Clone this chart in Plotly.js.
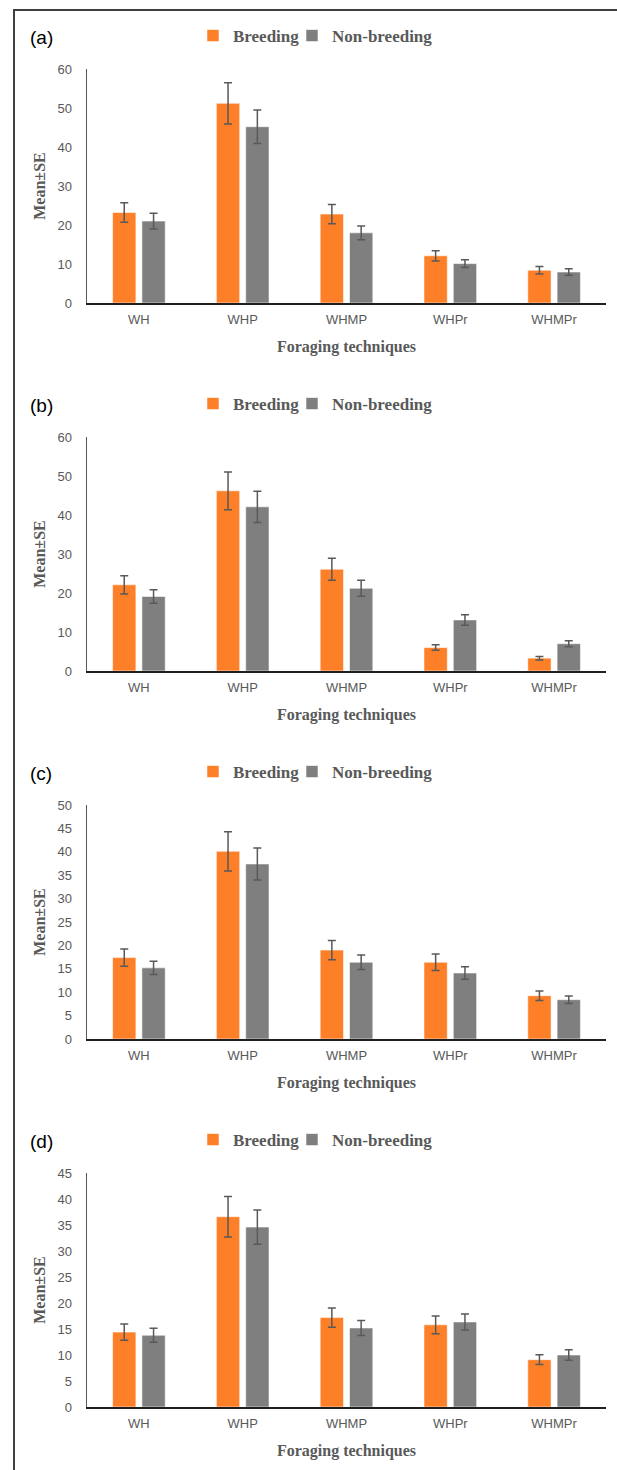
<!DOCTYPE html>
<html>
<head>
<meta charset="utf-8">
<script src="https://cdn.plot.ly/plotly-3.0.1.min.js"></script>
<style>
  html, body { margin: 0; padding: 0; background: #ffffff; width: 617px; height: 1470px; overflow: hidden; }
  #wrap { position: relative; width: 617px; height: 1470px; }
  .panel { position: absolute; left: 0; width: 617px; height: 368px; }
  #frame { position: absolute; left: 13px; top: 9px; width: 620px; height: 1480px;
           border-left: 2px solid #404040; border-top: 2px solid #404040; pointer-events: none; z-index: 10; }
</style>
</head>
<body>
<div id="wrap">
  <div id="p0" class="panel" style="top:0px"></div>
  <div id="p1" class="panel" style="top:368px"></div>
  <div id="p2" class="panel" style="top:736px"></div>
  <div id="p3" class="panel" style="top:1104px"></div>
  <div id="frame"></div>
</div>
<script>
// ---- data ----
const categories = ['WH', 'WHP', 'WHMP', 'WHPr', 'WHMPr'];
const seriesNames = ['Breeding', 'Non-breeding'];
const panelLabels = ['(a)', '(b)', '(c)', '(d)'];
const xTitle = 'Foraging techniques';
const yTitle = 'Mean±SE';

const aBreeding   = [23.2, 51.2, 22.8, 12.1, 8.4];
const aBreedingSE = [2.5, 5.3, 2.45, 1.3, 0.95];
const aNon        = [21.0, 45.2, 18.0, 10.1, 7.95];
const aNonSE      = [2.0, 4.3, 1.75, 1.0, 0.85];

const bBreeding   = [22.1, 46.2, 26.1, 6.0, 3.3];
const bBreedingSE = [2.35, 4.85, 2.8, 0.7, 0.45];
const bNon        = [19.1, 42.1, 21.2, 13.1, 7.0];
const bNonSE      = [1.75, 4.0, 2.05, 1.35, 0.75];

const cBreeding   = [17.4, 40.1, 19.0, 16.4, 9.25];
const cBreedingSE = [1.85, 4.2, 2.05, 1.75, 1.0];
const cNon        = [15.2, 37.4, 16.4, 14.1, 8.4];
const cNonSE      = [1.4, 3.4, 1.55, 1.35, 0.8];

const dBreeding   = [14.4, 36.6, 17.2, 15.8, 9.1];
const dBreedingSE = [1.55, 3.9, 1.85, 1.7, 0.95];
const dNon        = [13.8, 34.6, 15.2, 16.35, 10.0];
const dNonSE      = [1.35, 3.3, 1.45, 1.55, 1.0];

const yMax  = [60, 60, 50, 45];
const yStep = [10, 10, 5, 5];

// ---- styling ----
const colBreed = '#FD7F27';
const colNon = '#7F7F7F';
const errCol = '#595959';
const textGrey = '#595959';

const panels = [
  [aBreeding, aBreedingSE, aNon, aNonSE],
  [bBreeding, bBreedingSE, bNon, bNonSE],
  [cBreeding, cBreedingSE, cNon, cNonSE],
  [dBreeding, dBreedingSE, dNon, dNonSE]
];

const W = 617, H = 368;
const M = { l: 87, r: 11, t: 69, b: 65 };
const plotW = W - M.l - M.r, plotH = H - M.t - M.b;
const px2x = p => (p - M.l) / plotW;
const py2y = p => (H - M.b - p) / plotH;

const legendFont = { family: 'Liberation Serif, Times New Roman, serif', size: 17, color: textGrey, weight: 'bold' };

panels.forEach((p, i) => {
  const [bv, bse, nv, nse] = p;
  const traces = [
    {
      type: 'bar', name: seriesNames[0], x: categories, y: bv, legend: 'legend',
      marker: { color: colBreed, line: { color: 'rgba(255,255,255,0.55)', width: 1 } },
      error_y: { type: 'data', array: bse, visible: true, color: errCol, thickness: 1.5, width: 4 }
    },
    {
      type: 'bar', name: seriesNames[1], x: categories, y: nv, legend: 'legend2',
      marker: { color: colNon, line: { color: 'rgba(255,255,255,0.55)', width: 1 } },
      error_y: { type: 'data', array: nse, visible: true, color: errCol, thickness: 1.5, width: 4 }
    }
  ];
  const layout = {
    width: W, height: H,
    margin: M,
    paper_bgcolor: 'rgba(0,0,0,0)',
    plot_bgcolor: 'rgba(0,0,0,0)',
    barmode: 'group',
    bargap: 0.435,
    bargroupgap: 0.205,
    font: { family: 'Liberation Sans, Arial, sans-serif', color: textGrey },
    showlegend: true,
    legend: {
      orientation: 'h',
      x: px2x(193), xanchor: 'left',
      y: py2y(36), yanchor: 'middle',
      font: legendFont, itemwidth: 30,
      bgcolor: 'rgba(0,0,0,0)'
    },
    legend2: {
      orientation: 'h',
      x: px2x(292), xanchor: 'left',
      y: py2y(36), yanchor: 'middle',
      font: legendFont, itemwidth: 30,
      bgcolor: 'rgba(0,0,0,0)'
    },
    xaxis: {
      type: 'category',
      showline: true, linecolor: '#1f1f1f', linewidth: 1.5,
      ticks: '', showgrid: false, zeroline: false,
      tickfont: { family: 'Liberation Sans, Arial, sans-serif', size: 13, color: textGrey },
      ticklabelstandoff: 4,
      title: { text: xTitle, standoff: 14,
               font: { family: 'Liberation Serif, Times New Roman, serif', size: 16, color: textGrey, weight: 'bold' } },
      fixedrange: true
    },
    yaxis: {
      range: [0, yMax[i]], dtick: yStep[i], tick0: 0,
      showline: true, linecolor: '#595959', linewidth: 1.5,
      ticks: '', showgrid: false, zeroline: false,
      tickfont: { family: 'Liberation Sans, Arial, sans-serif', size: 13, color: textGrey },
      ticklabelstandoff: 11,
      title: { text: yTitle, standoff: 8,
               font: { family: 'Liberation Serif, Times New Roman, serif', size: 16, color: textGrey, weight: 'bold' } },
      fixedrange: true
    },
    annotations: [
      {
        text: panelLabels[i], xref: 'paper', yref: 'paper',
        x: px2x(28), xanchor: 'left', y: py2y(37), yanchor: 'middle',
        showarrow: false,
        font: { family: 'Liberation Sans, Arial, sans-serif', size: 19, color: '#000000' }
      }
    ]
  };
  Plotly.newPlot('p' + i, traces, layout, { displayModeBar: false, staticPlot: true });
});
</script>
</body>
</html>
